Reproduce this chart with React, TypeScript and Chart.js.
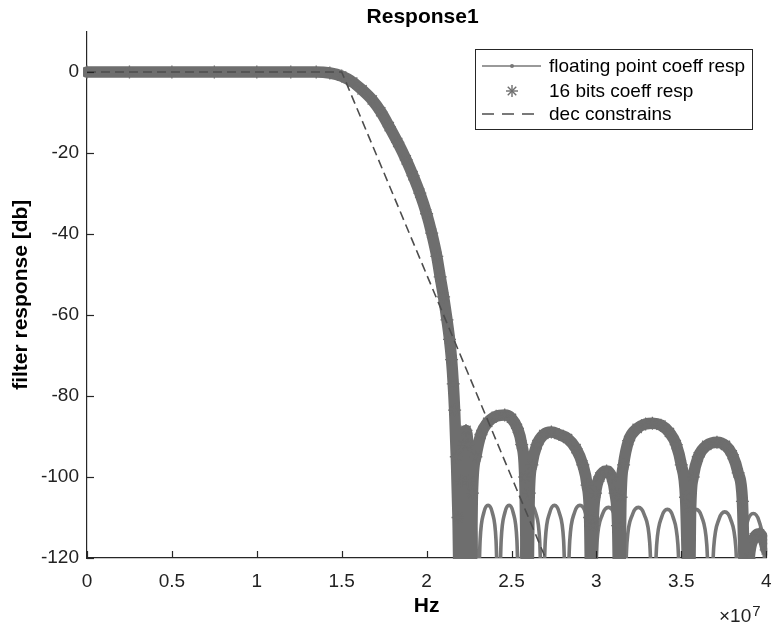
import React, { useEffect, useRef } from "react";
import { Chart, registerables } from "chart.js";

Chart.register(...registerables);

// ---- data (frequency in units of 1e7 Hz, response in dB) ----
const passbandFreq = [0, 0.25, 0.5, 0.75, 1.0, 1.2, 1.35, 1.43, 1.5, 1.565, 1.62, 1.68, 1.73, 1.78, 1.83, 1.88, 1.92, 1.96, 2.0, 2.03, 2.06, 2.08, 2.1, 2.12, 2.135, 2.147, 2.157, 2.165];
const passbandDb = [0, 0, 0, 0, 0, 0, 0, -0.25, -1.0, -2.5, -4.4, -6.9, -9.8, -13.5, -17.4, -21.7, -25.6, -29.9, -35, -39.8, -45.5, -50.6, -55.5, -61.2, -66, -71, -77, -83.5];

const fixedStopFreq = [
  2.175, 2.185, 2.195,
  2.205, 2.215, 2.232, 2.243, 2.252, 2.26,
  2.27, 2.29, 2.32, 2.36, 2.41, 2.46, 2.5, 2.535, 2.56, 2.578, 2.594,
  2.605, 2.62, 2.65, 2.69, 2.735, 2.78, 2.83, 2.88, 2.92, 2.945, 2.96, 2.97,
  2.98, 2.995, 3.02, 3.06, 3.09, 3.11, 3.125, 3.135,
  3.145, 3.16, 3.19, 3.24, 3.29, 3.33, 3.38, 3.43, 3.47, 3.5, 3.525, 3.547,
  3.555, 3.57, 3.6, 3.65, 3.71, 3.76, 3.8, 3.835, 3.86, 3.88,
  3.9, 3.93, 3.96, 3.985, 4.0,
];
const fixedStopDb = [
  -95, -110, -135,
  -101, -92, -88.5, -92, -101, -135,
  -104, -95, -89.5, -86.5, -85, -84.7, -85.5, -88, -92, -100, -135,
  -104, -97, -92, -89.5, -88.9, -89.5, -90.5, -93, -97, -102, -110, -135,
  -112, -104, -100, -98.5, -100, -104, -112, -135,
  -105, -97, -91, -88, -86.9, -86.7, -87.2, -89, -92, -97, -105, -135,
  -108, -100, -95, -92.2, -91.4, -92.2, -94.5, -99, -106, -135,
  -120, -115, -114, -115.5, -118,
];

const floatStopFreq = [
  2.18, 2.2, 2.21, 2.23, 2.25, 2.27, 2.29, 2.3,
  2.315, 2.337, 2.362, 2.387, 2.409, 2.424,
  2.439, 2.461, 2.486, 2.51, 2.532, 2.547,
  2.563, 2.588, 2.615, 2.642, 2.666, 2.682,
  2.699, 2.725, 2.753, 2.781, 2.807, 2.824,
  2.843, 2.871, 2.903, 2.935, 2.963, 2.982,
  3.003, 3.035, 3.071, 3.106, 3.138, 3.159,
  3.18, 3.212, 3.247, 3.282, 3.314, 3.335,
  3.355, 3.385, 3.418, 3.451, 3.48, 3.5,
  3.521, 3.551, 3.586, 3.62, 3.65, 3.671,
  3.691, 3.722, 3.756, 3.79, 3.821, 3.841,
  3.861, 3.891, 3.924, 3.957, 3.986, 4.006,
];
const floatStopDb = [
  -100, -135, -115, -108, -107, -108, -115, -135,
  -115.7, -108.8, -107, -108.8, -115.7, -135,
  -115.7, -108.8, -107, -108.8, -115.7, -135,
  -115.7, -108.8, -107, -108.8, -115.7, -135,
  -115.7, -108.8, -107, -108.8, -115.7, -135,
  -115.7, -108.8, -107, -108.8, -115.7, -135,
  -116.2, -109.3, -107.5, -109.3, -116.2, -135,
  -116.2, -109.3, -107.5, -109.3, -116.2, -135,
  -116.7, -109.8, -108, -109.8, -116.7, -135,
  -116.7, -109.8, -108, -109.8, -116.7, -135,
  -117.3, -110.4, -108.6, -110.4, -117.3, -135,
  -117.7, -110.8, -109, -110.8, -117.7, -135,
];

const constraintFreq = [0, 1.5, 2.7];
const constraintDb = [0, 0, -120];

const xTicks = [0, 0.5, 1, 1.5, 2, 2.5, 3, 3.5, 4];
const yTicks = [0, -20, -40, -60, -80, -100, -120];

const seriesLabels = ["floating point coeff resp", "16 bits coeff resp", "dec constrains"];
const chartTitle = "Response1";
const xTitle = "Hz";
const yTitle = "filter response [db]";
const xExponent = "7";

const FONT = '"Liberation Sans", Arial, Helvetica, sans-serif';
const AXIS = "#262626";
const BAND = "#6e6e6e";
const THIN = "#777777";
const DASH = "#4d4d4d";

const toPoints = (xs: number[], ys: number[]) => xs.map((x, i) => ({ x, y: ys[i] }));

const decorPlugin = {
  id: "decor",
  afterDatasetsDraw(chart: any) {
    const { ctx, chartArea: ca, scales } = chart;
    ctx.save();
    ctx.strokeStyle = AXIS;
    ctx.lineWidth = 1.2;
    const tl = 7;
    xTicks.forEach((v) => {
      const px = Math.round(scales.x.getPixelForValue(v)) + 0.5;
      ctx.beginPath();
      ctx.moveTo(px, ca.bottom);
      ctx.lineTo(px, ca.bottom - tl);
      ctx.stroke();
    });
    yTicks.forEach((v) => {
      const py = Math.round(scales.y.getPixelForValue(v)) + 0.5;
      ctx.beginPath();
      ctx.moveTo(ca.left, py);
      ctx.lineTo(ca.left + tl, py);
      ctx.stroke();
    });
    ctx.restore();
  },
  afterDraw(chart: any) {
    const { ctx, chartArea: ca } = chart;
    ctx.save();
    // title
    ctx.fillStyle = "#000";
    ctx.font = `bold 21px ${FONT}`;
    ctx.textAlign = "center";
    ctx.textBaseline = "alphabetic";
    ctx.fillText(chartTitle, (ca.left + ca.right) / 2 - 4, 23);
    // exponent label
    ctx.font = `19px ${FONT}`;
    ctx.textAlign = "right";
    ctx.fillStyle = "#222";
    ctx.fillText("\u00d710", ca.right - 15, 622);
    ctx.font = `15px ${FONT}`;
    ctx.textAlign = "left";
    ctx.fillText(xExponent, ca.right - 14, 616);

    // legend
    const w = 277;
    const h = 80;
    const lx = Math.round(ca.right - 14 - w);
    const ly = Math.round(ca.top + 17);
    ctx.fillStyle = "#fff";
    ctx.fillRect(lx, ly, w, h);
    ctx.strokeStyle = AXIS;
    ctx.lineWidth = 1;
    ctx.strokeRect(lx + 0.5, ly + 0.5, w, h);
    const rows = [17, 42, 65];
    const sx0 = lx + 7;
    const sx1 = lx + 66;
    const sc = lx + 37;
    ctx.strokeStyle = THIN;
    ctx.lineWidth = 1.5;
    ctx.beginPath();
    ctx.moveTo(sx0, ly + rows[0]);
    ctx.lineTo(sx1, ly + rows[0]);
    ctx.stroke();
    ctx.fillStyle = THIN;
    ctx.beginPath();
    ctx.arc(sc, ly + rows[0], 2, 0, Math.PI * 2);
    ctx.fill();
    ctx.strokeStyle = BAND;
    ctx.lineWidth = 1.4;
    const r = 6;
    for (let k = 0; k < 4; k++) {
      const a = (k * Math.PI) / 4;
      ctx.beginPath();
      ctx.moveTo(sc - r * Math.cos(a), ly + rows[1] - r * Math.sin(a));
      ctx.lineTo(sc + r * Math.cos(a), ly + rows[1] + r * Math.sin(a));
      ctx.stroke();
    }
    ctx.strokeStyle = DASH;
    ctx.lineWidth = 1.5;
    ctx.setLineDash([12, 8]);
    ctx.beginPath();
    ctx.moveTo(sx0, ly + rows[2]);
    ctx.lineTo(sx1, ly + rows[2]);
    ctx.stroke();
    ctx.setLineDash([]);
    ctx.fillStyle = "#000";
    ctx.font = `19px ${FONT}`;
    ctx.textAlign = "left";
    ctx.textBaseline = "middle";
    seriesLabels.forEach((t, i) => ctx.fillText(t, lx + 74, ly + rows[i] + 1));
    ctx.restore();
  },
};

export default function App() {
  const ref = useRef<HTMLCanvasElement | null>(null);

  useEffect(() => {
    if (!ref.current) return;
    Chart.defaults.font.family = FONT;
    const fixedPts = toPoints(passbandFreq, passbandDb).concat(toPoints(fixedStopFreq, fixedStopDb));
    const floatPts = toPoints(passbandFreq, passbandDb).concat(toPoints(floatStopFreq, floatStopDb));
    const constraintPts = toPoints(constraintFreq, constraintDb);

    const chart = new Chart(ref.current, {
      type: "line",
      data: {
        datasets: [
          {
            label: seriesLabels[2],
            data: constraintPts,
            borderColor: DASH,
            borderWidth: 1.6,
            borderDash: [9, 5],
            pointRadius: 0,
            fill: false,
            order: 0,
            clip: 0 as any,
          },
          {
            label: seriesLabels[1],
            data: fixedPts,
            borderColor: BAND,
            borderWidth: 11.5,
            borderJoinStyle: "round",
            borderCapStyle: "round",
            pointStyle: "star",
            pointRadius: 6.5,
            pointBorderColor: BAND,
            pointBorderWidth: 1.3,
            cubicInterpolationMode: "monotone",
            fill: false,
            order: 1,
            clip: { left: 4, right: 1, top: 0, bottom: 1 } as any,
          },
          {
            label: seriesLabels[0],
            data: floatPts,
            borderColor: THIN,
            borderWidth: 3.6,
            pointRadius: 0,
            cubicInterpolationMode: "monotone",
            fill: false,
            order: 2,
            clip: { left: 4, right: 0, top: 0, bottom: 0 } as any,
          },
        ],
      },
      options: {
        animation: false,
        responsive: true,
        maintainAspectRatio: false,
        layout: { padding: { top: 31.5, right: 7, left: 0, bottom: 0 } },
        plugins: { legend: { display: false }, tooltip: { enabled: false }, title: { display: false } },
        events: [],
        scales: {
          x: {
            type: "linear",
            min: 0,
            max: 4,
            afterBuildTicks: (s: any) => {
              s.ticks = xTicks.map((v) => ({ value: v }));
            },
            afterFit: (s: any) => {
              s.height = 68;
              s.paddingLeft = 0;
              s.paddingRight = 0;
            },
            grid: { display: false, drawTicks: false },
            border: { display: true, color: AXIS, width: 1.2 },
            ticks: {
              font: { size: 19 },
              color: "#222",
              padding: 12,
              maxRotation: 0,
              autoSkip: false,
              callback: (v: any) => String(v),
            },
            title: { display: true, text: xTitle, font: { size: 21, weight: "bold" }, color: "#000", padding: { top: 0, bottom: 7 } },
          },
          y: {
            type: "linear",
            min: -120,
            max: 10,
            afterBuildTicks: (s: any) => {
              s.ticks = yTicks.map((v) => ({ value: v }));
            },
            afterFit: (s: any) => {
              s.width = 87;
              s.paddingTop = 0;
              s.paddingBottom = 0;
            },
            grid: { display: false, drawTicks: false },
            border: { display: true, color: AXIS, width: 1.2 },
            ticks: { font: { size: 19 }, color: "#222", padding: 8, autoSkip: false, callback: (v: any) => String(v) },
            title: { display: true, text: yTitle, font: { size: 21, weight: "bold" }, color: "#000", padding: { top: 9, bottom: 0 } },
          },
        },
      },
      plugins: [decorPlugin],
    });
    return () => chart.destroy();
  }, []);

  return (
    <div style={{ position: "absolute", left: 0, top: 0, width: 774, height: 626, background: "#fff" }}>
      <canvas ref={ref} />
    </div>
  );
}
